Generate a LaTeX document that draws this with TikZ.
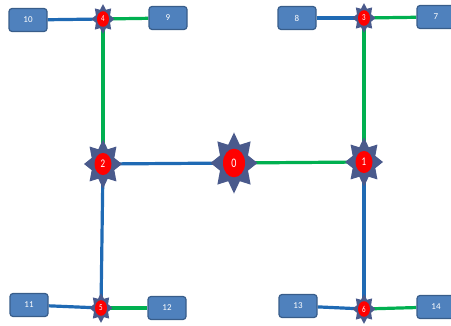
\documentclass[tikz,border=0pt]{standalone}
\usepackage{fontspec}
\setmainfont{Carlito}
\usetikzlibrary{shapes.geometric, backgrounds}
\definecolor{boxblue}{HTML}{4F81BD}
\definecolor{boxedge}{HTML}{385D8A}
\definecolor{linkblue}{HTML}{1F6AB4}
\definecolor{linkgreen}{HTML}{00B050}
\definecolor{starfill}{HTML}{4A5A8C}

\begin{document}
\begin{tikzpicture}[x=1pt, y=-1pt,
    hostbox/.style={draw=boxedge, line width=1.2pt, fill=boxblue, rounded corners=3pt, minimum width=38pt, minimum height=23pt, text=white, font=\small},
    hub/.style={star, star points=8, fill=starfill, inner sep=0pt, text=white, yscale=1.3,
        path picture={\fill[red] (path picture bounding box.center) circle (#1);}},
    bl/.style={linkblue, line width=3.2pt},
    gr/.style={linkgreen, line width=3.2pt}]
    \useasboundingbox (0,0) rectangle (451,326);
    % switches
    \node[hub=11pt, minimum size=47pt, star point ratio=1.55, font=\normalsize] (n0) at (234,163) {0};
    \node[hub=8.5pt, minimum size=38pt, star point ratio=1.55, font=\small] (n1) at (364,162) {1};
    \node[hub=8.5pt, minimum size=38pt, star point ratio=1.55, font=\small] (n2) at (103,164) {2};
    \node[hub=6pt, minimum size=23pt, star point ratio=1.5, font=\scriptsize] (n3) at (364,18) {3};
    \node[hub=6pt, minimum size=23pt, star point ratio=1.5, font=\scriptsize] (n4) at (103,19) {4};
    \node[hub=6pt, minimum size=23pt, star point ratio=1.5, font=\scriptsize] (n5) at (101,308) {5};
    \node[hub=6pt, minimum size=23pt, star point ratio=1.5, font=\scriptsize] (n6) at (364,309) {6};
    % hosts
    \node[hostbox] (b7) at (436,17) {7};
    \node[hostbox] (b8) at (297,18) {8};
    \node[hostbox] (b9) at (168,18) {9};
    \node[hostbox] (b10) at (28,20) {10};
    \node[hostbox] (b11) at (29,305) {11};
    \node[hostbox] (b12) at (167,308) {12};
    \node[hostbox] (b13) at (298,306) {13};
    \node[hostbox] (b14) at (436,307) {14};
    \begin{scope}[on background layer]
      \draw[bl] (n2.center) -- (n0.center);
      \draw[gr] (n0.center) -- (n1.center);
      \draw[gr] (n2.center) -- (n4.center);
      \draw[bl] (n2.center) -- (n5.center);
      \draw[gr] (n1.center) -- (n3.center);
      \draw[bl] (n1.center) -- (n6.center);
      \draw[bl] (b10) -- (n4.center);
      \draw[gr] (n4.center) -- (b9);
      \draw[bl] (b8) -- (n3.center);
      \draw[gr] (n3.center) -- (b7);
      \draw[bl] (b11) -- (n5.center);
      \draw[gr] (n5.center) -- (b12);
      \draw[bl] (b13) -- (n6.center);
      \draw[gr] (n6.center) -- (b14);
    \end{scope}
\end{tikzpicture}
\end{document}
